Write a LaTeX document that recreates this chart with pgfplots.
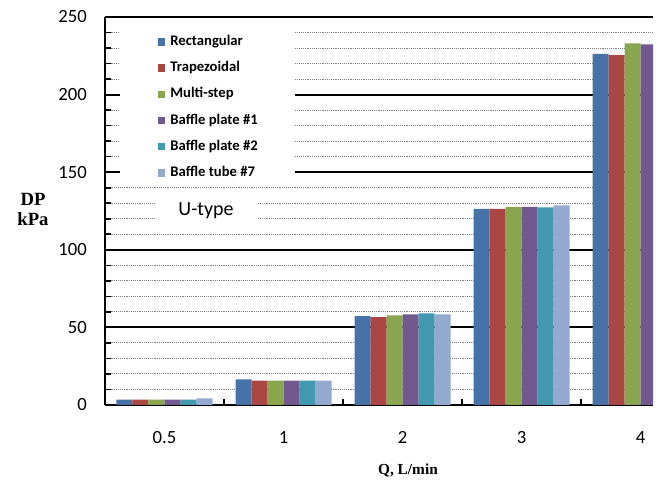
\documentclass[border=0pt]{standalone}
\usepackage{fontspec}
\setmainfont{Carlito}
\newfontfamily\labfont{Liberation Serif}
\usepackage{pgfplots}
\pgfplotsset{compat=1.18}
\definecolor{c1}{RGB}{70,114,167}
\definecolor{c2}{RGB}{170,70,67}
\definecolor{c3}{RGB}{137,165,78}
\definecolor{c4}{RGB}{113,88,143}
\definecolor{c5}{RGB}{65,152,175}
\definecolor{c6}{RGB}{147,169,207}
\begin{document}
\begin{tikzpicture}
\begin{axis}[
  width=411pt, height=291pt, scale only axis,
  xmin=-0.5, xmax=4.105, ymin=0, ymax=250,
  ybar=0pt, bar width=12pt,
  axis x line*=box, axis y line*=left,
  axis line style={black, line width=1.5pt},
  tick align=inside,
  tick style={black, line width=1.2pt},
  major tick length=10pt, minor tick length=4.5pt,
  ytick={0,50,...,250}, minor y tick num=4,
  ytick pos=left, xtick pos=bottom,
  xtick={0,1,2,3,4}, xticklabels={0.5,1,2,3,4},
  xtick style={draw=none},
  extra x ticks={0.5,1.5,2.5,3.5}, extra x tick labels={},
  extra x tick style={xtick style={draw=black, line width=1.5pt}, major tick length=4.5pt},
  ymajorgrids, yminorgrids,
  major grid style={black, line width=1.5pt},
  minor grid style={gray, densely dotted, line width=0.7pt},
  /pgf/number format/assume math mode=true,
  tick label style={font=\fontsize{14}{16}\selectfont},
  yticklabel style={anchor=east, inner sep=0pt, xshift=-13.5pt},
  xticklabel style={anchor=center, inner sep=0pt, yshift=-24.5pt},
  legend cell align=left,
  legend image code/.code={\fill[#1,draw=none] (0pt,-2.8pt) rectangle (5.6pt,2.8pt);},
  legend style={at={(rel axis cs:0.0274,0.9665)}, anchor=north west, draw=none, fill=white,
    font=\bfseries\fontsize{11}{13}\selectfont, row sep=9.15pt, column sep=4pt,
    inner xsep=28pt, inner ysep=3.5pt,
    nodes={inner sep=0pt, text height=8pt, text depth=2.5pt}},
]
\addplot[fill=c1, draw=none] coordinates {(0,3.5) (1,16.5) (2,57.3) (3,126.3) (4,226.2)};
\addplot[fill=c2, draw=none] coordinates {(0,3.5) (1,15.7) (2,56.7) (3,126.3) (4,225.5)};
\addplot[fill=c3, draw=none] coordinates {(0,3.5) (1,15.7) (2,57.8) (3,127.6) (4,233.0)};
\addplot[fill=c4, draw=none] coordinates {(0,3.5) (1,15.7) (2,58.4) (3,127.6) (4,232.4)};
\addplot[fill=c5, draw=none] coordinates {(0,3.5) (1,15.7) (2,59.1) (3,127.4) (4,232.0)};
\addplot[fill=c6, draw=none] coordinates {(0,4.3) (1,15.7) (2,58.4) (3,128.7) (4,233.0)};
\legend{Rectangular, Trapezoidal, Multi-step, Baffle plate \#1, Baffle plate \#2, Baffle tube \#7}
\coordinate (O) at (rel axis cs:0,0);
\coordinate (Y) at (rel axis cs:0,0.503);
\coordinate (Q) at (axis cs:2.046,0);
\coordinate (U) at (axis cs:0.349,125.3);
\end{axis}
\node[fill=white, minimum width=76.5pt, minimum height=30.75pt, inner sep=0pt,
  font=\fontsize{15}{17}\selectfont] at (U) {U-type};
\node[align=center, font=\labfont\bfseries\fontsize{14}{15}\selectfont, inner sep=0pt]
  at ([xshift=-54pt]Y) {DP\\kPa};
\node[font=\labfont\bfseries\fontsize{11.5}{13}\selectfont, inner sep=0pt]
  at ([yshift=-48.75pt]Q) {Q, L/min};
\pgfresetboundingbox
\path[use as bounding box] ([shift={(-78.75pt,-57pt)}]O) rectangle ([shift={(421.5pt,303.75pt)}]O);
\end{tikzpicture}
\end{document}
